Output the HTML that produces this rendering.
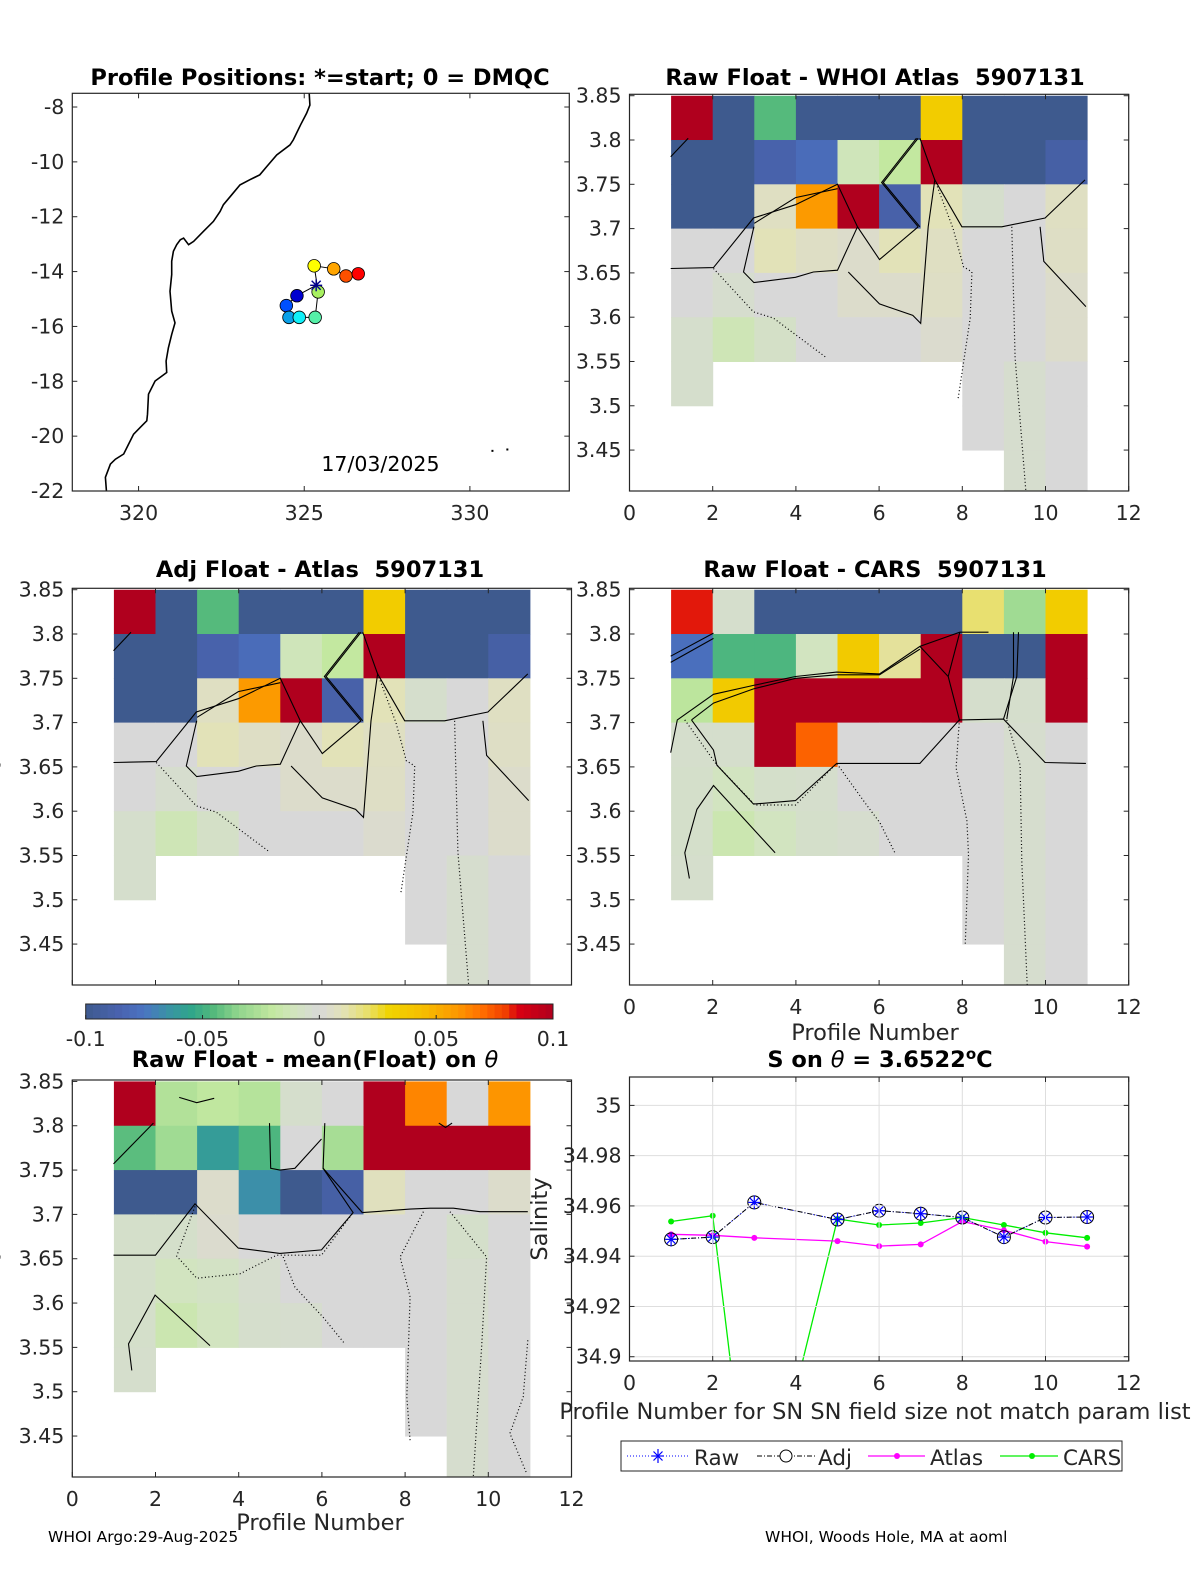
<!DOCTYPE html>
<html><head><meta charset="utf-8"><style>
html,body{margin:0;padding:0;background:#fff}
svg{display:block;font-family:"DejaVu Sans","Liberation Sans",sans-serif}
svg text{white-space:pre}
.tk{font-size:20.5px;fill:#262626}
.tt{font-size:22.5px;font-weight:bold;fill:#000}
.lb{font-size:22.5px;fill:#262626}
</style></head><body>
<svg id="fig" width="1200" height="1575" viewBox="0 0 1200 1575" xmlns="http://www.w3.org/2000/svg" xml:space="preserve"></svg>
<script>
// ---------- DATA ----------
const N = null;
const profiles = [1,2,3,5,6,7,8,9,10,11];
const rawSal = [34.9467,34.9476,34.9614,34.9546,34.9581,34.9569,34.9554,34.9476,34.9554,34.9556];
const adjSal = [34.9467,34.9476,34.9614,34.9546,34.9581,34.9569,34.9554,34.9476,34.9554,34.9556];
const atlasSal = [34.9487,34.9483,34.9473,34.946,34.944,34.9447,34.9538,34.9503,34.9458,34.9438];
const carsSal = [34.9538,34.9561,34.82,34.9548,34.9524,34.9532,34.9554,34.9524,34.9493,34.9473];
const salTicks = [34.9,34.92,34.94,34.96,34.98,35];
const salTickLabels = ["34.9","34.92","34.94","34.96","34.98","35"];
const profTicks = [0,2,4,6,8,10,12];
const thetaTicks = [3.45,3.5,3.55,3.6,3.65,3.7,3.75,3.8,3.85];
const thetaTickLabels = ["3.45","3.5","3.55","3.6","3.65","3.7","3.75","3.8","3.85"];
const lonTicks = [320,325,330];
const latTicks = [-22,-20,-18,-16,-14,-12,-10,-8];
const cbarTicks = [-0.1,-0.05,0,0.05,0.1];
const cbarTickLabels = ["-0.1","-0.05","0","0.05","0.1"];
const posLon = [324.78,324.46,324.54,324.85,325.33,325.42,325.30,325.89,326.26,326.63];
const posLat = [-14.88,-15.24,-15.67,-15.67,-15.67,-14.74,-13.79,-13.90,-14.16,-14.08];
const startLon = 325.36, startLat = -14.50;
const coastLon = [325.15,325.17,325.07,324.89,324.67,324.57,324.17,323.87,323.66,323.36,323.06,322.81,322.56,322.46,322.26,321.96,321.66,321.51,321.36,321.26,321.15,321.05,321.0,321.0,320.95,321.0,321.1,321.0,320.9,320.83,320.85,320.7,320.5,320.3,320.27,320.25,320.05,319.85,319.7,319.55,319.3,319.15,319.0,319.03];
const coastLat = [-7.5,-7.93,-8.23,-8.65,-9.2,-9.38,-9.75,-10.17,-10.47,-10.65,-10.84,-11.2,-11.56,-11.81,-12.17,-12.53,-12.9,-13.02,-12.78,-12.84,-13.02,-13.26,-13.62,-14.11,-14.72,-15.44,-15.87,-16.29,-16.78,-17.26,-17.68,-17.81,-17.99,-18.47,-19.2,-19.44,-19.68,-19.93,-20.29,-20.65,-20.84,-21.02,-21.5,-21.99];
const lowRows = [
 [-0.005,N,N,N,N,N,N,0,-0.004,0],
 [N,N,N,N,N,N,N,0,-0.004,0],
 [N,N,N,N,N,N,N,N,-0.004,0]];
const gridAtlas = [
 [0.1,-0.1,-0.045,-0.1,-0.1,-0.1,0.035,-0.1,-0.1,-0.1],
 [-0.1,-0.1,-0.087,-0.08,-0.012,-0.02,0.1,-0.1,-0.1,-0.09],
 [-0.1,-0.1,0.007,0.058,0.1,-0.088,0.01,-0.005,0,0.007],
 [0,0,0.01,0.006,0.004,0.01,0.007,0,0,0.006],
 [0,-0.004,0,0,0.004,0.004,0.006,0,0,0.004],
 [-0.005,-0.013,-0.007,0,0,0,0.003,0,0,0.004]].concat(lowRows);
const gridCars = [
 [0.083,-0.005,-0.1,-0.1,-0.1,-0.1,-0.1,0.02,-0.03,0.035],
 [-0.078,-0.047,-0.047,-0.01,0.036,0.014,0.1,-0.1,-0.1,0.1],
 [-0.022,0.036,0.1,0.1,0.1,0.1,0.1,-0.005,-0.005,0.1],
 [-0.005,-0.005,0.1,0.072,0,0,0,0,-0.004,0],
 [-0.006,-0.01,-0.006,-0.005,0,0,0,0,-0.004,0],
 [-0.006,-0.015,-0.01,-0.006,-0.004,0,0,0,-0.004,0]].concat(lowRows);
const gridMean = [
 [0.1,-0.025,-0.021,-0.024,-0.005,0,0.1,0.064,0,0.06],
 [-0.044,-0.03,-0.06,-0.047,0,-0.028,0.1,0.1,0.1,0.1],
 [-0.1,-0.1,0.004,-0.066,-0.1,-0.09,0.008,0,0,0.004],
 [-0.006,-0.006,0.003,0,0,0,0,0,-0.006,0],
 [-0.006,-0.01,-0.008,-0.004,0,0,0,0,-0.004,0],
 [-0.006,-0.015,-0.01,-0.005,-0.004,0,0,0,-0.004,0]].concat(lowRows);
// contour polylines [prof, theta,...] ; type s=solid d=dotted
const contAtlas = [
 ['s',[0.99,3.655,2.02,3.656,2.98,3.712,3.99,3.727,5.0,3.75,5.48,3.702,6.01,3.665,6.94,3.702]],
 ['s',[2.99,3.702,2.74,3.651,2.99,3.639,3.99,3.645,4.42,3.651,5.0,3.653,5.48,3.702]],
 ['s',[5.26,3.651,6.01,3.615,6.81,3.602,7.0,3.593,7.18,3.702,7.34,3.755,7.99,3.702,8.95,3.702,9.99,3.712,10.95,3.755]],
 ['s',[9.87,3.702,9.96,3.663,10.97,3.612]],
 ['s',[6.98,3.802,7.34,3.755]],['s',[6.9,3.802,6.06,3.752,6.94,3.702]],
 ['s',[6.94,3.802,6.1,3.752,6.98,3.702]],['s',[3.0,3.706,3.99,3.735,5.0,3.745]],
 ['s',[0.99,3.781,1.41,3.802]],
 ['d',[2.02,3.655,2.98,3.606,3.46,3.599,4.74,3.554]],
 ['d',[7.34,3.755,7.78,3.7,8.03,3.657,8.23,3.651,8.19,3.599,7.9,3.508]],
 ['d',[9.19,3.702,9.27,3.554,9.53,3.403]]];
const contCars = [
 ['s',[0.99,3.775,2.02,3.801]],['s',[0.99,3.768,2.02,3.795]],
 ['s',[0.99,3.666,1.15,3.703,2.02,3.732,2.98,3.742,3.99,3.752,4.98,3.757,6.01,3.755,6.98,3.786,7.94,3.802,8.63,3.802]],
 ['s',[1.49,3.703,2.02,3.722,2.98,3.738,3.99,3.75,4.98,3.754,6.01,3.754,6.98,3.783]],
 ['s',[6.98,3.786,7.66,3.752,7.93,3.703,6.98,3.654,4.98,3.654,3.99,3.612,2.98,3.608,2.1,3.652,2.02,3.669,1.49,3.703]],
 ['s',[7.93,3.703,8.99,3.704,9.99,3.655,10.97,3.654]],
 ['s',[7.94,3.802,7.66,3.752]],
 ['s',[8.99,3.704,9.31,3.752,9.35,3.802]],['s',[9.07,3.704,9.23,3.752,9.23,3.802]],
 ['s',[1.44,3.524,1.33,3.553,1.62,3.602,2.02,3.629,3.5,3.553]],
 ['d',[1.33,3.703,2.1,3.652,3.02,3.607,3.99,3.607,4.98,3.654,5.7,3.607,6.02,3.587,6.38,3.553]],
 ['d',[7.93,3.703,7.85,3.649,8.11,3.589,8.15,3.551,8.07,3.448]],
 ['d',[9.07,3.703,9.39,3.652,9.43,3.543,9.56,3.404]]];
const contMean = [
 ['s',[0.99,3.654,2.0,3.654,2.95,3.712,3.99,3.662,4.99,3.656,5.99,3.66,6.75,3.702,6.03,3.752,6.07,3.803]],
 ['s',[6.97,3.702,8.12,3.706,8.6,3.707,9.16,3.707,9.8,3.703,10.95,3.703]],
 ['s',[4.74,3.803,4.77,3.752,4.99,3.75,5.35,3.752,5.99,3.785]],
 ['s',[1.43,3.524,1.35,3.554,1.99,3.609,3.31,3.552]],
 ['s',[0.99,3.757,1.95,3.803]],['s',[6.03,3.752,6.97,3.702]],
 ['s',[2.57,3.832,2.99,3.826,3.41,3.831]],['s',[8.81,3.803,8.97,3.798,9.13,3.803]],
 ['d',[2.95,3.709,2.51,3.653,2.99,3.628,4.03,3.633,4.91,3.654,5.99,3.654,6.75,3.702]],
 ['d',[5.07,3.652,5.35,3.618,6.03,3.584,6.55,3.554]],
 ['d',[8.44,3.703,7.88,3.652,8.12,3.607,8.04,3.494,8.12,3.445]],
 ['d',[9.08,3.703,9.96,3.652,9.84,3.55,9.64,3.404]],
 ['d',[10.95,3.558,10.84,3.494,10.52,3.453,10.92,3.408]]];

// ---------- helpers ----------
const NS='http://www.w3.org/2000/svg';
const svg=document.getElementById('fig');
function el(tag,attrs,parent){const e=document.createElementNS(NS,tag);for(const k in attrs)e.setAttribute(k,attrs[k]);(parent||svg).appendChild(e);return e;}
function txt(s,x,y,cls,anchor,parent){const t=el('text',{x:x,y:y,class:cls,'text-anchor':anchor||'middle'},parent);t.textContent=s;return t;}
const cmapV=[-0.1,-0.085,-0.075,-0.065,-0.055,-0.045,-0.035,-0.02,-0.01,0,0.01,0.02,0.03,0.045,0.06,0.07,0.08,0.085,0.1];
const cmapC=['#3e5a8e','#4a63b0','#4a74c2','#3a92a6','#2fa58a','#55ba7c','#8fd48c','#c3e8a0','#d2e4c0','#d8d8d8','#e2e2b8','#e8e070','#f0d400','#f6bc00','#fd9500','#ff6c00','#f03c00','#d80012','#b0001e'];
function hex2(c){return [1,3,5].map(i=>parseInt(c.substr(i,2),16));}
function cmap(v){v=Math.max(-0.1,Math.min(0.1,v));for(let i=0;i<cmapV.length-1;i++){if(v<=cmapV[i+1]){const f=(v-cmapV[i])/(cmapV[i+1]-cmapV[i]);const a=hex2(cmapC[i]),b=hex2(cmapC[i+1]);return 'rgb('+a.map((x,j)=>Math.round(x+(b[j]-x)*f)).join(',')+')';}}return cmapC[cmapC.length-1];}

function makeAxes(name,x0,x1,y0,y1,xmin,xmax,ymin,ymax){
  const g=el('g',{});
  
  
  const sx=v=>x0+(v-xmin)/(xmax-xmin)*(x1-x0);
  const sy=v=>y1-(v-ymin)/(ymax-ymin)*(y1-y0);
  const cid='clip-'+name;
  const cp=el('clipPath',{id:cid},g);el('rect',{x:x0,y:y0,width:x1-x0,height:y1-y0},cp);
  const plot=el('g',{'clip-path':'url(#'+cid+')'},g);
  return {g,plot,sx,sy,x0,x1,y0,y1};
}
function frame(ax,xt,xl,yt,yl,opts){
  opts=opts||{};
  const g=ax.g;
  if(opts.grid){
    xt.forEach(v=>el('line',{x1:ax.sx(v),x2:ax.sx(v),y1:ax.y0,y2:ax.y1,stroke:'#dedede','stroke-width':1},g));
    yt.forEach(v=>el('line',{x1:ax.x0,x2:ax.x1,y1:ax.sy(v),y2:ax.sy(v),stroke:'#dedede','stroke-width':1},g));
  }
  xt.forEach((v,i)=>{const x=ax.sx(v);
    el('line',{x1:x,x2:x,y1:ax.y1,y2:ax.y1-5,stroke:'#262626'},g);
    el('line',{x1:x,x2:x,y1:ax.y0,y2:ax.y0+5,stroke:'#262626'},g);
    if(xl){const t=txt(xl[i],x,ax.y1+29,'tk','middle',g);
      
      }});
  yt.forEach((v,i)=>{const y=ax.sy(v);
    el('line',{x1:ax.x0,x2:ax.x0+5,y1:y,y2:y,stroke:'#262626'},g);
    el('line',{x1:ax.x1,x2:ax.x1-5,y1:y,y2:y,stroke:'#262626'},g);
    if(yl){const t=txt(yl[i],ax.x0-8,y+7,'tk','end',g);
      
      }});
  const b=el('rect',{x:ax.x0,y:ax.y0,width:ax.x1-ax.x0,height:ax.y1-ax.y0,fill:'none',stroke:'#262626','stroke-width':1.2},g);
  
  
}
function heat(ax,grid,conts){
  grid.forEach((row,r)=>row.forEach((v,c)=>{
    if(v===null)return;
    const xa=ax.sx(c+1),xb=ax.sx(c+2),ya=ax.sy(3.85-0.05*r),yb=ax.sy(3.85-0.05*(r+1));
    const rc=el('rect',{x:xa,y:ya,width:xb-xa+0.5,height:yb-ya+0.5,fill:cmap(v)},ax.plot);
    
    
  }));
  conts.forEach(cn=>{
    const p=cn[1];let pts=[];
    for(let i=0;i<p.length;i+=2)pts.push(ax.sx(p[i]).toFixed(1)+','+ax.sy(p[i+1]).toFixed(1));
    const pl=el('polyline',{points:pts.join(' '),fill:'none',stroke:'#000','stroke-width':cn[0]==='s'?1.1:1.2,'stroke-dasharray':cn[0]==='d'?'1 2.5':'none'},ax.plot);
    
    
  });
}
const TH=[3.4038,3.8516];

// ---------- Panel 1: map ----------
const m=makeAxes('position-map',72.3,569.3,93.3,491,318.0,333.0,-22,-7.5);
{
  let pts=coastLon.map((lo,i)=>m.sx(lo).toFixed(1)+','+m.sy(coastLat[i]).toFixed(1));
  const c=el('polyline',{points:pts.join(' '),fill:'none',stroke:'#000','stroke-width':1.6},m.plot);
  
  
  const tr=[[startLon,startLat]].concat(posLon.map((lo,i)=>[lo,posLat[i]]));
  const path=el('polyline',{points:tr.map(p=>m.sx(p[0]).toFixed(1)+','+m.sy(p[1]).toFixed(1)).join(' '),fill:'none',stroke:'#000','stroke-width':1},m.plot);
  
  
  const jet=['#0000d0','#0050ff','#0aa0e8','#10f0f8','#55f0a8','#a8f060','#ffff00','#ffa500','#ff5000','#ff0000'];
  posLon.forEach((lo,i)=>{
    const cc=el('circle',{cx:m.sx(lo),cy:m.sy(posLat[i]),r:6.3,fill:jet[i],stroke:'#000','stroke-width':0.8},m.plot);
    
    
  });
  const sx=m.sx(startLon),sy=m.sy(startLat);
  const st=el('g',{stroke:'#00008b','stroke-width':1.4},m.plot);
  
  
  [[-6,0,6,0],[0,-6,0,6],[-4.5,-4.5,4.5,4.5],[-4.5,4.5,4.5,-4.5]].forEach(d=>el('line',{x1:sx+d[0],y1:sy+d[1],x2:sx+d[2],y2:sy+d[3]},st));
  el('rect',{x:m.sx(330.65),y:m.sy(-20.5),width:2,height:2,fill:'#000'},m.plot);
  el('rect',{x:m.sx(331.1),y:m.sy(-20.45),width:2,height:2,fill:'#000'},m.plot);
  const d=txt('17/03/2025',m.sx(327.3),471,'lb','middle',m.g);
  
  
  d.setAttribute('style','font-size:20.5px;fill:#000');
  frame(m,lonTicks,lonTicks.map(String),latTicks,latTicks.map(String));
  const t=txt('Profile Positions: *=start; 0 = DMQC',320,85,'tt');
  
  
}
// ---------- Panel 2 ----------
const p2=makeAxes('raw-minus-atlas',629.5,1128.7,94.3,491,0,12,TH[0],TH[1]);
heat(p2,gridAtlas,contAtlas);
frame(p2,profTicks,profTicks.map(String),thetaTicks,thetaTickLabels);
{const t=txt('Raw Float - WHOI Atlas  5907131',875,85,'tt');}
// ---------- Panel 3 ----------
const p3=makeAxes('adj-minus-atlas',72.3,571.5,588.3,985,0,12,TH[0],TH[1]);
heat(p3,gridAtlas,contAtlas);
frame(p3,profTicks,null,thetaTicks,thetaTickLabels);
{const t=txt('Adj Float - Atlas  5907131',320,577,'tt');}
// ---------- Panel 4 ----------
const p4=makeAxes('raw-minus-cars',629.5,1128.7,588.3,985,0,12,TH[0],TH[1]);
heat(p4,gridCars,contCars);
frame(p4,profTicks,profTicks.map(String),thetaTicks,thetaTickLabels);
{const t=txt('Raw Float - CARS  5907131',875,577,'tt');
 const x=txt('Profile Number',875,1040,'lb');}
// ---------- Panel 5 ----------
const p5=makeAxes('raw-minus-mean',72.3,571.5,1080,1477,0,12,TH[0],TH[1]);
heat(p5,gridMean,contMean);
frame(p5,profTicks,profTicks.map(String),thetaTicks,thetaTickLabels);
{const t=txt('',315,1067,'tt');
 t.innerHTML='Raw Float - mean(Float) on <tspan font-style="italic" font-weight="normal">θ</tspan>';
 const x=txt('Profile Number',320,1530,'lb');}
// left cut-off y labels
[765,1257].forEach(y=>{const t=txt('θ',0,y,'lb','middle');t.setAttribute('transform','rotate(-90 0 '+y+')');});
// ---------- Colorbar ----------
{
  const cx0=85.7,cx1=553,cy0=1004,cy1=1019;
  const g=el('g',{});
  const n=64;for(let i=0;i<n;i++){const v=-0.1+0.2*(i+0.5)/n;el('rect',{x:cx0+(cx1-cx0)*i/n,y:cy0,width:(cx1-cx0)/n+0.4,height:cy1-cy0,fill:cmap(v)},g);}
  el('rect',{x:cx0,y:cy0,width:cx1-cx0,height:cy1-cy0,fill:'none',stroke:'#262626','stroke-width':1},g);
  cbarTicks.forEach((v,i)=>{const x=cx0+(v+0.1)/0.2*(cx1-cx0);el('line',{x1:x,x2:x,y1:cy1,y2:cy1-4,stroke:'#262626'},g);
    const t=txt(cbarTickLabels[i],x,1046,'tk','middle',g);});
}
// ---------- Panel 6: salinity ----------
const p6=makeAxes('salinity-on-theta',629.5,1128.7,1077,1361,0,12,34.8983,35.0113);
frame(p6,profTicks,profTicks.map(String),salTicks,salTickLabels,{grid:true});
{
  const ax=p6;
  const line=(vals,col,dash,w,name)=>{const pl=el('polyline',{points:profiles.map((p,i)=>ax.sx(p).toFixed(1)+','+ax.sy(vals[i]).toFixed(1)).join(' '),fill:'none',stroke:col,'stroke-width':w,'stroke-dasharray':dash},ax.plot);
    };
  line(carsSal,'#00ee00','none',1.3,'cars-line');
  line(atlasSal,'#ff00ff','none',1.3,'atlas-line');
  line(rawSal,'#0000ff','1 2',1,'raw-line');
  line(adjSal,'#000','5 2 1 2',1,'adj-line');
  profiles.forEach((p,i)=>{
    const x=ax.sx(p);
    let c=el('circle',{cx:x,cy:ax.sy(carsSal[i]),r:3,fill:'#00ee00'},ax.plot);
    c=el('circle',{cx:x,cy:ax.sy(atlasSal[i]),r:3,fill:'#ff00ff'},ax.plot);
    c=el('circle',{cx:x,cy:ax.sy(adjSal[i]),r:6.5,fill:'none',stroke:'#000','stroke-width':1},ax.plot);
    const y=ax.sy(rawSal[i]);const s=el('g',{stroke:'#0000ff','stroke-width':1.2},ax.plot);
    
    
    [[-6,0,6,0],[0,-7,0,7],[-4.5,-4.5,4.5,4.5],[-4.5,4.5,4.5,-4.5]].forEach(d=>el('line',{x1:x+d[0],y1:y+d[1],x2:x+d[2],y2:y+d[3]},s));
  });
  const t=txt('',880,1067,'tt');
  t.innerHTML='S on <tspan font-style="italic" font-weight="normal">θ</tspan> = 3.6522<tspan dy="-8" font-size="15">o</tspan><tspan dy="8">C</tspan>';
  const x=txt('Profile Number for SN SN field size not match param list',875,1419,'lb');
  const yl=txt('Salinity',547,1219,'lb');yl.setAttribute('transform','rotate(-90 547 1219)');
  // legend
  const lg=el('g',{});
  el('rect',{x:621,y:1441,width:501,height:30,fill:'#fff',stroke:'#262626','stroke-width':1},lg);
  const ly=1456;
  el('line',{x1:627,x2:688,y1:ly,y2:ly,stroke:'#0000ff','stroke-dasharray':'1 2'},lg);
  const as=el('g',{stroke:'#0000ff','stroke-width':1.2},lg);[[-6,0,6,0],[0,-7,0,7],[-4.5,-4.5,4.5,4.5],[-4.5,4.5,4.5,-4.5]].forEach(d=>el('line',{x1:658+d[0],y1:ly+d[1],x2:658+d[2],y2:ly+d[3]},as));
  let lt;
  lt=txt('Raw',694,1465,'lb','start',lg);lt.setAttribute('style','font-size:21.5px');
  el('line',{x1:757,x2:816,y1:ly,y2:ly,stroke:'#000','stroke-dasharray':'5 2 1 2'},lg);
  el('circle',{cx:786,cy:ly,r:6,fill:'#fff',stroke:'#000'},lg);
  lt=txt('Adj',818,1465,'lb','start',lg);lt.setAttribute('style','font-size:21.5px');
  el('line',{x1:868,x2:925,y1:ly,y2:ly,stroke:'#ff00ff','stroke-width':1.3},lg);
  el('circle',{cx:897,cy:ly,r:3,fill:'#ff00ff'},lg);
  lt=txt('Atlas',930,1465,'lb','start',lg);lt.setAttribute('style','font-size:21.5px');
  el('line',{x1:1000,x2:1058,y1:ly,y2:ly,stroke:'#00ee00','stroke-width':1.3},lg);
  el('circle',{cx:1032,cy:ly,r:3,fill:'#00ee00'},lg);
  lt=txt('CARS',1063,1465,'lb','start',lg);lt.setAttribute('style','font-size:21.5px');
}
// footer
{const a=txt('WHOI Argo:29-Aug-2025',48,1542,'tk','start');a.setAttribute('style','font-size:15.5px;fill:#000');
 const b=txt('WHOI, Woods Hole, MA at aoml',765,1542,'tk','start');b.setAttribute('style','font-size:15.5px;fill:#000');}
</script>
</body></html>
